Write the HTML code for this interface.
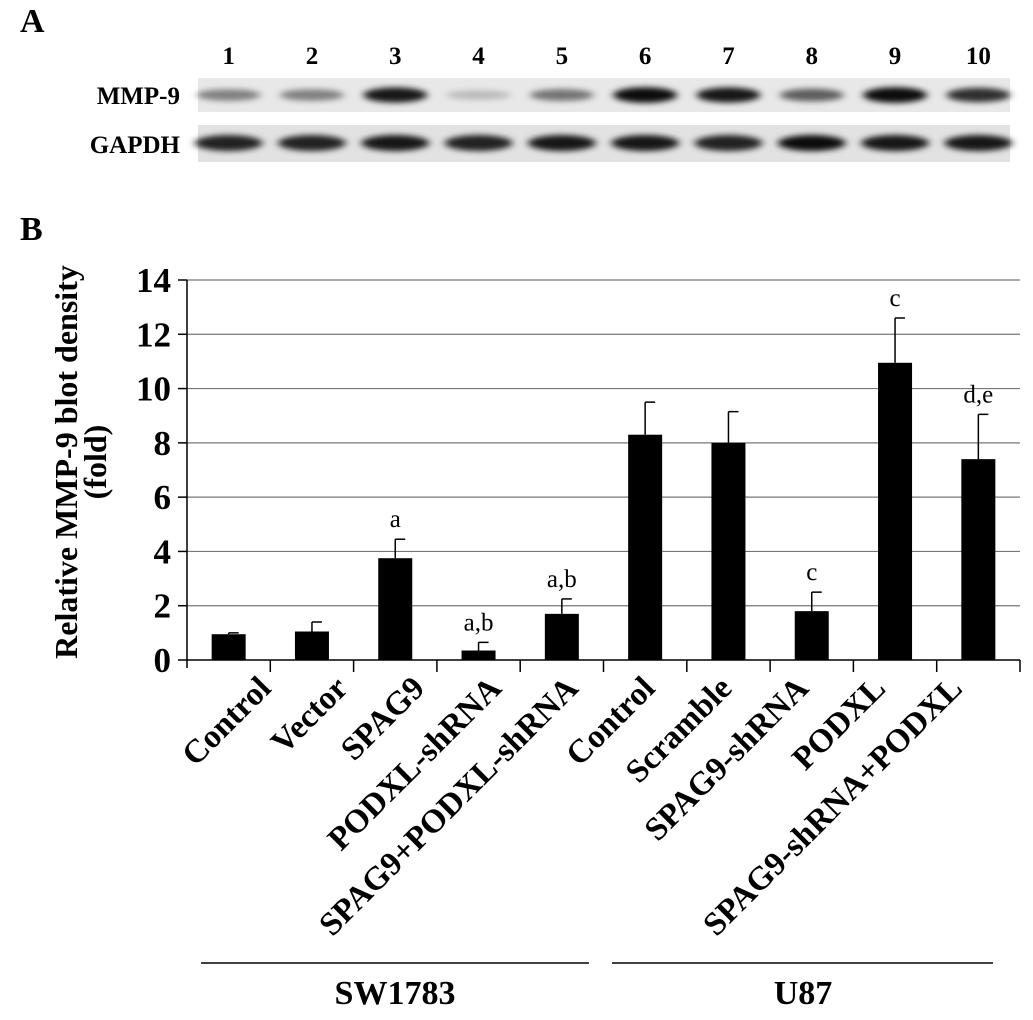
<!DOCTYPE html>
<html><head><meta charset="utf-8"><style>
body{margin:0;background:#fff;}
svg{display:block;font-family:"Liberation Serif",serif;font-weight:bold;}
</style></head><body>
<svg width="1033" height="1020" viewBox="0 0 1033 1020">
<defs>
<filter id="blur" x="-50%" y="-100%" width="200%" height="300%"><feGaussianBlur stdDeviation="4 3"/></filter>
</defs>
<text x="20" y="32" font-size="34">A</text>
<text x="20" y="240" font-size="34">B</text>
<text x="180" y="104" font-size="25" text-anchor="end">MMP-9</text>
<text x="180" y="153" font-size="25" text-anchor="end">GAPDH</text>
<rect x="198" y="78" width="812" height="34" fill="#e8e8e8"/>
<rect x="198" y="125" width="812" height="37" fill="#e2e2e2"/>
<g id="blot"></g>
<g id="chart"></g>
<text transform="translate(77,462) rotate(-90)" font-size="32" text-anchor="middle">Relative MMP-9 blot density</text>
<text transform="translate(106,462) rotate(-90)" font-size="32" text-anchor="middle">(fold)</text>
<line x1="201" y1="963" x2="589" y2="963" stroke="#000" stroke-width="1.5"/>
<line x1="612" y1="963" x2="993" y2="963" stroke="#000" stroke-width="1.5"/>
<text x="395" y="1004" font-size="34" text-anchor="middle">SW1783</text>
<text x="803" y="1004" font-size="34" text-anchor="middle">U87</text>
</svg>
<script>
const lanes=['1','2','3','4','5','6','7','8','9','10'];
const mmpIntensity=[0.45,0.45,0.9,0.2,0.5,0.95,0.9,0.6,0.95,0.8];
const gapdhIntensity=[0.85,0.85,0.9,0.85,0.9,0.9,0.85,0.95,0.9,0.9];
const categories=['Control','Vector','SPAG9','PODXL-shRNA','SPAG9+PODXL-shRNA','Control','Scramble','SPAG9-shRNA','PODXL','SPAG9-shRNA+PODXL'];
const values=[0.95,1.05,3.75,0.35,1.7,8.3,8.0,1.8,10.95,7.4];
const errors=[0.05,0.35,0.7,0.3,0.55,1.2,1.15,0.7,1.65,1.65];
const annotations=['','','a','a,b','a,b','','','c','c','d,e'];
const yTicks=[0,2,4,6,8,10,12,14];
const NS='http://www.w3.org/2000/svg';
function mk(t,a,p){const e=document.createElementNS(NS,t);for(const k in a)e.setAttribute(k,a[k]);p.appendChild(e);return e;}
const x0=187,x1=1020,y0=660,yTop=280,yMax=14;
const bw=(x1-x0)/categories.length;
const X=i=>x0+bw*(i+0.5);
const Y=v=>y0-(v/yMax)*(y0-yTop);
const blot=document.getElementById('blot');
lanes.forEach((l,i)=>{
 const cx=X(i);
 const t=mk('text',{x:cx,y:64,'font-size':25,'text-anchor':'middle'},blot);t.textContent=l;
 
 
 const m=mk('ellipse',{cx:cx,cy:95,rx:32,ry:4+4*mmpIntensity[i],fill:'#000','fill-opacity':mmpIntensity[i],filter:'url(#blur)'},blot);
 
 
 const g=mk('ellipse',{cx:cx,cy:143,rx:34,ry:8,fill:'#000','fill-opacity':gapdhIntensity[i],filter:'url(#blur)'},blot);
 
 
});
const c=document.getElementById('chart');
yTicks.forEach(v=>{
 if(v>0){const gl=mk('line',{x1:x0,x2:x1,y1:Y(v),y2:Y(v),stroke:'#777','stroke-width':1.2},c);
 
 }
 const tk=mk('line',{x1:x0-9,x2:x0,y1:Y(v),y2:Y(v),stroke:'#000','stroke-width':1.5},c);
 
 
 const t=mk('text',{x:x0-16,y:Y(v)+12,'font-size':35,'text-anchor':'end'},c);t.textContent=v;
 
 
});
const ax=mk('line',{x1:x0,x2:x0,y1:yTop,y2:y0+8,stroke:'#000','stroke-width':1.5},c);


const bx=mk('line',{x1:x0,x2:x1,y1:y0,y2:y0,stroke:'#000','stroke-width':1.5},c);


categories.forEach((cat,i)=>{
 const cx=X(i);
 const tk=mk('line',{x1:x0+bw*(i+1),x2:x0+bw*(i+1),y1:y0,y2:y0+12,stroke:'#000','stroke-width':1.5},c);
 
 
 const top=Y(values[i]+errors[i]);
 const el=mk('line',{x1:cx,x2:cx,y1:top,y2:Y(values[i]),stroke:'#000','stroke-width':1.5},c);
 
 
 const ec=mk('line',{x1:cx,x2:cx+10,y1:top,y2:top,stroke:'#000','stroke-width':1.5},c);
 
 
 const b=mk('rect',{x:cx-17,y:Y(values[i]),width:34,height:y0-Y(values[i]),fill:'#000'},c);
 
 
 if(annotations[i]){const a=mk('text',{x:cx,y:top-12,'font-size':25,'font-weight':'normal','text-anchor':'middle'},c);a.textContent=annotations[i];
 
 }
 const off=40-6.5*i;
 const t=mk('text',{transform:`translate(${cx+off+4},${y0+30}) rotate(-45)`,'font-size':33,'text-anchor':'end'},c);t.textContent=cat;
 
 
});
</script>
</body></html>
